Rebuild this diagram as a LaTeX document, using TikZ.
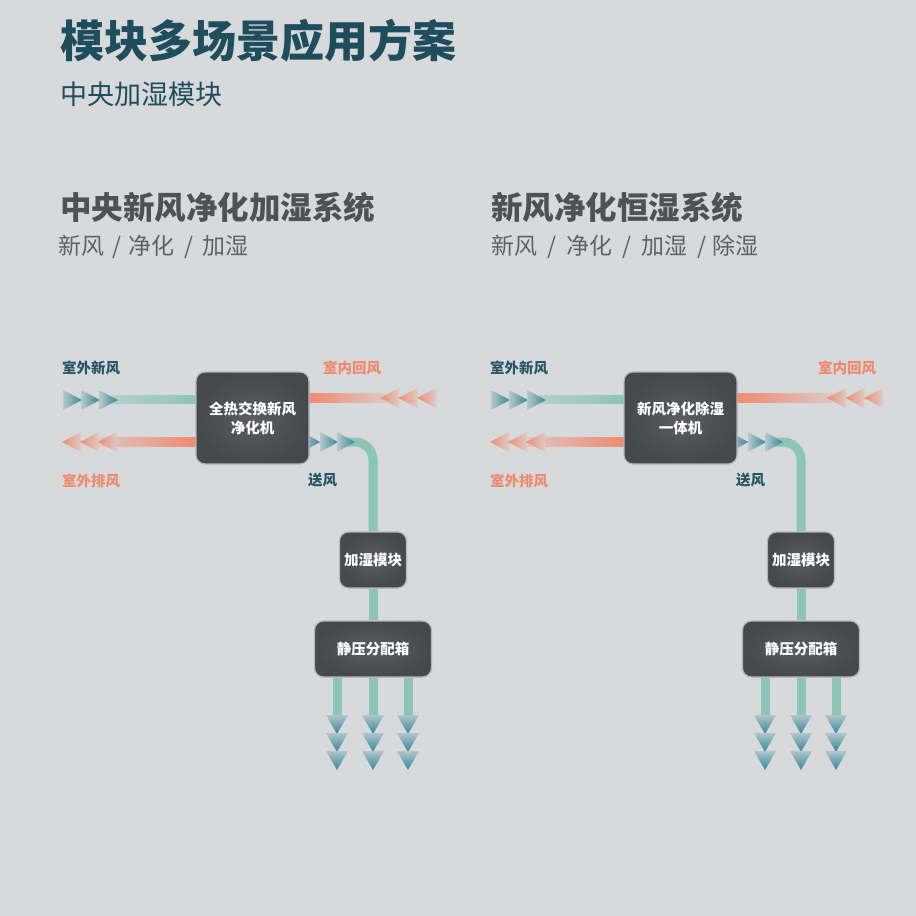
\documentclass[tikz,border=0pt]{standalone}
\usepackage{fontspec}
\setmainfont{Noto Sans CJK SC}
\usetikzlibrary{positioning,calc,backgrounds}

\definecolor{bgc}{HTML}{D8D9DB}
\definecolor{titleteal}{HTML}{1E4D5E}
\definecolor{headgray}{HTML}{4F5255}
\definecolor{subgray}{HTML}{5F6265}
\definecolor{labelteal}{HTML}{27566A}
\definecolor{labelorange}{HTML}{EE8A6E}
\definecolor{lineteal}{HTML}{8DC4B8}
\definecolor{chevteal}{HTML}{34879A}
\definecolor{lineorange}{HTML}{F08B6F}
\definecolor{boxin}{HTML}{5A5D61}
\definecolor{boxout}{HTML}{45484C}
\definecolor{boxline}{HTML}{B3B5B8}

\begin{document}
\begin{tikzpicture}[x=1pt, y=-1pt,
  unitbox/.style={draw=boxline, line width=1.2pt, rounded corners=9pt, inner color=boxin, outer color=boxout,
    text=white, align=center, inner sep=0pt, font=\bfseries\fontsize{14.5}{19}\selectfont},
  tag/.style={anchor=west, inner sep=0pt, font=\bfseries\fontsize{14.5}{16}\selectfont},
  head/.style={anchor=west, inner sep=0pt, text=headgray, font=\bfseries\fontsize{31.5}{34}\selectfont},
  subhead/.style={anchor=west, inner sep=0pt, text=subgray, font=\fontsize{23}{26}\selectfont},
  chevR/.style={left color=chevteal!20!bgc, middle color=chevteal!85!bgc, right color=chevteal},
  chevL/.style={left color=lineorange, middle color=lineorange!85!bgc, right color=lineorange!18!bgc},
  chevD/.style={top color=chevteal!25!bgc, middle color=chevteal!80!bgc, bottom color=chevteal}]

  % page
  \begin{scope}[on background layer]
    \fill[bgc] (0,0) rectangle (916,916);
  \end{scope}
  \useasboundingbox (0,0) rectangle (916,916);

  % titles
  \node[anchor=west, inner sep=0pt, text=titleteal, font=\bfseries\fontsize{44}{48}\selectfont] (title) at (60,41) {模块多场景应用方案};
  \node[anchor=west, inner sep=0pt, text=titleteal, font=\fontsize{27}{30}\selectfont] (subtitle) at (60,94) {中央加湿模块};

  \node[head] (headL) at (60,207) {中央新风净化加湿系统};
  \node[subhead] (subL) at (58,247) {新风\hspace{8pt}/\hspace{7pt}净化\hspace{10pt}/\hspace{9pt}加湿};
  \node[head] (headR) at (491,207) {新风净化恒湿系统};
  \node[subhead] (subR) at (491,247) {新风\hspace{10pt}/\hspace{10pt}净化\hspace{10pt}/\hspace{10pt}加湿\hspace{10pt}/\hspace{6pt}除湿};

  % two panels
  \foreach \dx/\utext/\ox/\rl in {0/{全热交换新风\\净化机}/380/323, 428/{新风净化除湿\\一体机}/399/390}{
  \begin{scope}[xshift=\dx pt]
    \node[unitbox, minimum width=113pt, minimum height=92pt] (unit) at (252.5,418) {\utext};
    \node[unitbox, minimum width=67pt, minimum height=56pt] (hum) at (373,560) {加湿模块};
    \node[unitbox, minimum width=117pt, minimum height=56pt] (plenum) at (373,649) {静压分配箱};

    \node[tag, text=labelteal] (outair) at (62,368) {室外新风};
    \node[tag, text=labelorange] (retair) at (\rl,368) {室内回风};
    \node[tag, text=labelorange] (exhair) at (62,481) {室外排风};
    \node[tag, text=labelteal] (supair) at (308,480) {送风};

    \coordinate (inend) at (112,399);
    \coordinate (exend) at (100,442);
    \coordinate (retend) at (\ox+6,398);
    \coordinate (supend) at (340,442);

    % air lines
    \begin{scope}[on background layer]
      \path[left color=lineteal!45!bgc, middle color=lineteal, right color=lineteal]
        ($(inend)+(0,-4)$) rectangle ($(unit.west|-inend)+(0,4)$);
      \path[left color=lineorange!25!bgc, middle color=lineorange, right color=lineorange]
        ($(exend)+(0,-4.5)$) rectangle ($(unit.west|-exend)+(0,4.5)$);
      \path[left color=lineorange, middle color=lineorange, right color=lineorange!20!bgc]
        ($(unit.east|-retend)+(0,-4.5)$) rectangle ($(retend)+(0,4.5)$);
      \draw[lineteal, line width=9pt, rounded corners=18pt] (supend) -| (hum.north);
      \draw[lineteal, line width=9pt] (hum.south) -- (plenum.north);
      \foreach \k in {-36,0,35}
        \draw[lineteal, line width=9pt] ($(plenum.south)+(\k,0)$) -- ++(0,44);
      % supply heads, partly under the unit
      \foreach \x in {302,320,337}
        \path[chevR] (\x,432) -- ++(18,10) -- ++(-18,10) -- cycle;
    \end{scope}

    % arrow heads
    \foreach \x in {63,81,99}
      \path[chevR] (\x,390) -- ++(19,10) -- ++(-19,10) -- cycle;
    \foreach \x in {62,80,98}
      \path[chevL] (\x,442) -- ++(19,-10) -- ++(0,20) -- cycle;
    \foreach \x in {0,18.5,37}
      \path[chevL] (\ox+\x,398) -- ++(19,-10) -- ++(0,20) -- cycle;
    \foreach \k in {-36,0,35}
      \foreach \y in {715,733,751}
        \path[chevD] (373+\k-11,\y) -- ++(11,19) -- ++(11,-19) -- cycle;
  \end{scope}
  }
\end{tikzpicture}
\end{document}
